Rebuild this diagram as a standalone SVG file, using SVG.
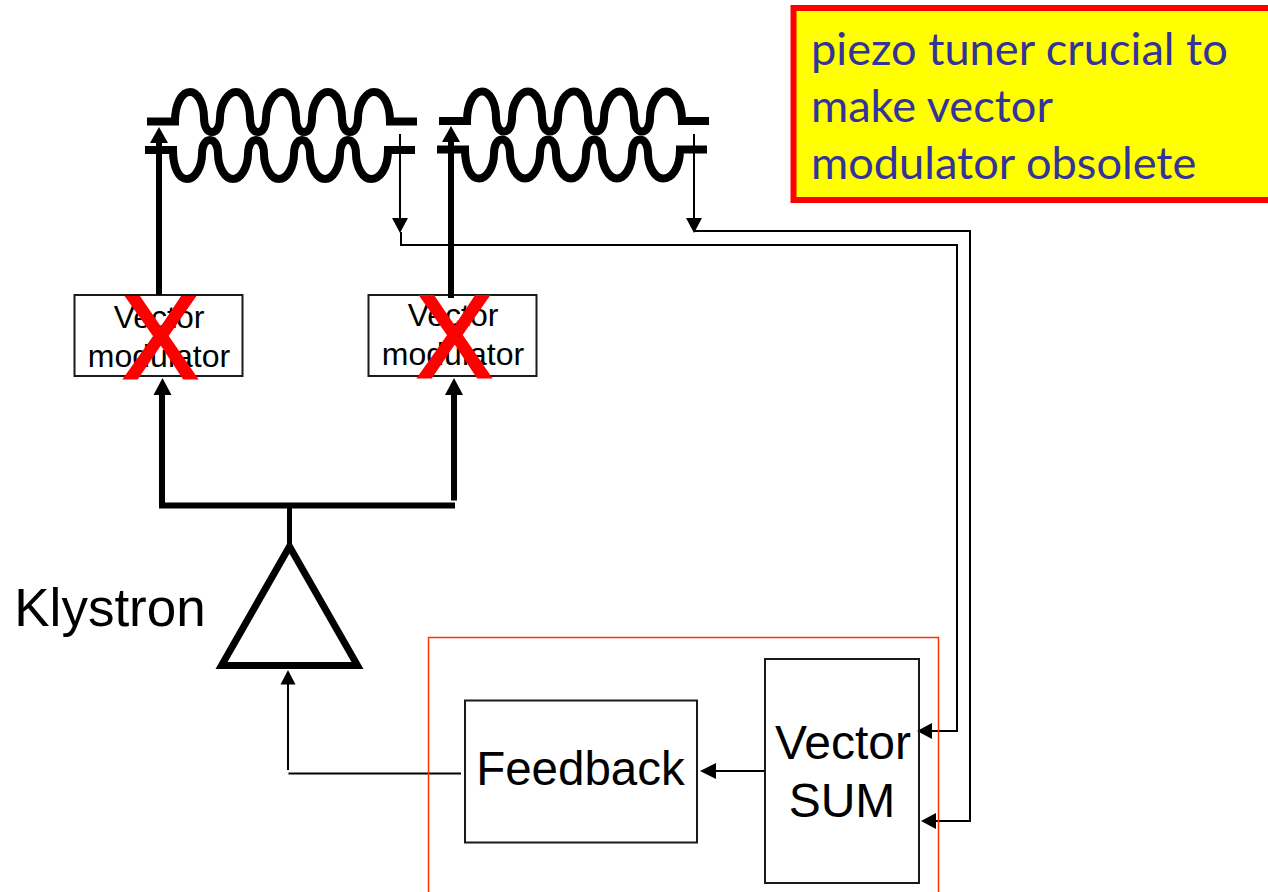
<svg xmlns="http://www.w3.org/2000/svg" width="1268" height="892" viewBox="0 0 1268 892">
<style>
.box{fill:none;stroke:#1a1a1a;stroke-width:2}
.cav{fill:none;stroke:#000;stroke-width:8}
.thick{fill:none;stroke:#000;stroke-width:6}
.thin{fill:none;stroke:#000;stroke-width:2}
.lbl{font-family:"Liberation Sans",Arial,sans-serif;fill:#000;text-anchor:middle}
.x{font-family:"Liberation Sans",Arial,sans-serif;font-size:113px;fill:#f00;stroke:#f00;stroke-width:3;text-anchor:middle}
.note{font-family:"Lato","Open Sans",sans-serif;font-size:45.200px;fill:#333399}
</style>
<rect width="1268" height="892" fill="#fff"/>
<g id="vm1">
<rect class="box" x="74.500" y="295" width="168" height="81"/>
<text class="lbl" font-size="32" x="159" y="328">Vector</text>
<text class="lbl" font-size="32" x="159" y="367">modulator</text>
<text class="x" transform="translate(160.500 378) scale(1 1.04)">X</text>
</g>
<g id="vm2">
<rect class="box" x="368.500" y="295" width="168" height="81"/>
<text class="lbl" font-size="32" x="453" y="326">Vector</text>
<text class="lbl" font-size="32" x="453" y="365">modulator</text>
<text class="x" transform="translate(454.500 377) scale(1 1.04)">X</text>
</g>
<g id="connectors">
<path class="thick" d="M159 295V140"/><path d="M159 127l9 16h-18z"/>
<path class="thick" d="M451 298V140"/><path d="M451 126l9 16h-18z"/>
<path class="thin" d="M400 134V222"/><path d="M400 233l-8-15h16z"/>
<path class="thin" d="M694 134V222"/><path d="M694 233l-8-15h16z"/>
<path class="thin" d="M401 232V245H957V731H930"/><path d="M917 731l15-8v16z"/>
<path class="thin" d="M694 231H970V821H934"/><path d="M921 821l15-8v16z"/>
<path class="thick" d="M162 505V392"/><path d="M162.500 378l9 17h-18z"/>
<path class="thick" d="M454 500.500V392"/><path d="M454 378l9 17h-18z"/>
<path class="thick" d="M159 505.500H455"/>
<path class="thin" d="M289.500 505V546" style="stroke-width:5"/>
<path class="thin" d="M288 770V682"/><path d="M288 670l7.500 14.500h-15z"/>
<path class="thin" d="M288.500 773.500H461"/>
<path class="thin" d="M765 771H712"/><path d="M700 771l16-8v16z"/>
</g>
<g id="cavity1">
<path class="cav" d="M147 121.500H175c0-18 7-29.500 15-29.500c8 0 14 12 14 26c0 8 3 14 8 14c5 0 8-6 8-14c0-14 8-26 16-26c8 0 14 12 14 26c0 8 3 14 8 14c5 0 8-6 8-14c0-14 8-26 16-26c8 0 14 12 14 26c0 8 3 14 8 14c5 0 8-6 8-14c0-14 8-26 16-26c8 0 14 12 14 26c0 8 3 14 8 14c5 0 8-6 8-14c0-14 8-26 16-26c8 0 16 10 16 29.500H417"/>
<path class="cav" d="M145 150H173c0 18 6 29 14 29c8 0 15-12 15-25c0-8 3-14 8-14c5 0 8 6 8 14c0 13 7 25 15 25c8 0 15-12 15-25c0-8 3-14 8-14c5 0 8 6 8 14c0 13 7 25 15 25c8 0 15-12 15-25c0-8 3-14 8-14c5 0 8 6 8 14c0 13 7 25 15 25c8 0 15-12 15-25c0-8 3-14 8-14c5 0 8 6 8 14c0 13 7 25 15 25c8 0 17-9 17-29H415"/>
</g>
<g id="cavity2" transform="translate(292 -0.5)">
<path class="cav" d="M147 121.500H175c0-18 7-29.500 15-29.500c8 0 14 12 14 26c0 8 3 14 8 14c5 0 8-6 8-14c0-14 8-26 16-26c8 0 14 12 14 26c0 8 3 14 8 14c5 0 8-6 8-14c0-14 8-26 16-26c8 0 14 12 14 26c0 8 3 14 8 14c5 0 8-6 8-14c0-14 8-26 16-26c8 0 14 12 14 26c0 8 3 14 8 14c5 0 8-6 8-14c0-14 8-26 16-26c8 0 16 10 16 29.500H417"/>
<path class="cav" d="M145 150H173c0 18 6 29 14 29c8 0 15-12 15-25c0-8 3-14 8-14c5 0 8 6 8 14c0 13 7 25 15 25c8 0 15-12 15-25c0-8 3-14 8-14c5 0 8 6 8 14c0 13 7 25 15 25c8 0 15-12 15-25c0-8 3-14 8-14c5 0 8 6 8 14c0 13 7 25 15 25c8 0 15-12 15-25c0-8 3-14 8-14c5 0 8 6 8 14c0 13 7 25 15 25c8 0 17-9 17-29H415"/>
</g>
<g id="klystron">
<path d="M289.500 546.500L221.500 665.500H357.500Z" fill="#fff" stroke="#000" stroke-width="7"/>
<text class="lbl" font-size="53" x="110" y="626">Klystron</text>
</g>
<g id="feedback">
<rect x="428.500" y="637.500" width="510" height="270" fill="none" stroke="#ff3300" stroke-width="1.500"/>
<rect class="box" x="465" y="700.500" width="232" height="142"/>
<text class="lbl" font-size="47.500" x="580.500" y="785">Feedback</text>
</g>
<g id="vector-sum">
<rect class="box" x="765" y="659" width="154" height="224"/>
<text class="lbl" font-size="48" x="843" y="759">Vector</text>
<text class="lbl" font-size="48" x="842" y="817">SUM</text>
</g>
<g id="note">
<rect x="793.500" y="8" width="490" height="192" fill="#ff0" stroke="#f00" stroke-width="6"/>
<text class="note" x="811" y="65">piezo tuner crucial to</text>
<text class="note" x="811" y="122">make vector</text>
<text class="note" x="811" y="179">modulator obsolete</text>
</g>
</svg>
